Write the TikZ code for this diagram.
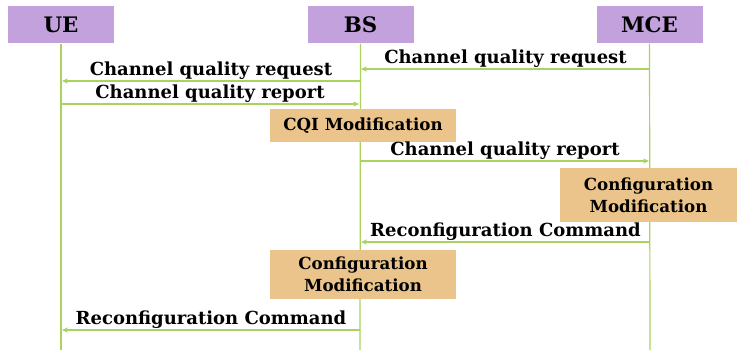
\documentclass[tikz,border=0pt]{standalone}
\usepackage{fontspec}
\setmainfont{DejaVu Serif}
\usetikzlibrary{arrows.meta}

\tikzset{every picture/.style={line width=0.75pt}}
\tikzset{
  actor/.style={fill={rgb, 255:red, 195; green, 161; blue, 221 }, draw opacity=0, minimum width=79.5pt, minimum height=27.75pt, inner sep=0.75pt, font=\bfseries\fontsize{16}{18}\selectfont},
  task/.style={fill={rgb, 255:red, 235; green, 196; blue, 139 }, draw opacity=0, minimum width=139.5pt, inner sep=0.75pt, align=center, font=\bfseries\fontsize{12.5}{16.5}\selectfont},
  life/.style={color={rgb, 255:red, 170; green, 210; blue, 95 }, line width=0.9pt},
  msg/.style={life, -{Stealth[length=4.5pt,width=4pt]}},
  lbl/.style={text=black, inner sep=0.75pt, font=\bfseries\fontsize{13.5}{15}\selectfont}
}

\begin{document}
\begin{tikzpicture}[x=0.75pt,y=0.75pt,yscale=-1,xscale=1]
\path[use as bounding box] (0,0) rectangle (737,350);

%Shape: Rectangle [id:ue]
\node [actor] (ue) at (61,24.5) {UE};
%Shape: Rectangle [id:bs]
\node [actor] (bs) at (360.5,24.5) {BS};
%Shape: Rectangle [id:mce]
\node [actor] (mce) at (649.5,24.5) {MCE};

%Straight Lines [id:lifelines]
\coordinate (ueend) at (61,350);
\coordinate (bsend) at (360,350);
\coordinate (mceend) at (650,350);
\draw [life] (ue.south) -- (ueend);
\draw [life] (bs.south) -- (bsend);
\draw [life] (mce.south) -- (mceend);

%Shape: Rectangle [id:cqi]
\node [task, minimum height=24.75pt] (cqi) at (363,125.5) {CQI Modification};
%Shape: Rectangle [id:mcecfg]
\node [task, minimum width=132.75pt, minimum height=40.5pt] (mcecfg) at (648.5,195) {Configuration\\Modification};
%Shape: Rectangle [id:bscfg]
\node [task, minimum height=36.75pt] (bscfg) at (363,274.5) {Configuration\\Modification};

%Message points
\coordinate (m1a) at (650,69);  \coordinate (m1b) at (361,69);
\coordinate (m2a) at (360,81);  \coordinate (m2b) at (62,81);
\coordinate (m3a) at (61,104);  \coordinate (m3b) at (359,104);
\coordinate (m4a) at (361,161); \coordinate (m4b) at (649,161);
\coordinate (m5a) at (650,242); \coordinate (m5b) at (361,242);
\coordinate (m6a) at (360,330); \coordinate (m6b) at (62,330);

%Straight Lines [id:msgs]
\draw [msg] (m1a) -- (m1b) node [lbl, midway, above] {Channel quality request};
\draw [msg] (m2a) -- (m2b) node [lbl, midway, above] {Channel quality request};
\draw [msg] (m3a) -- (m3b) node [lbl, midway, above] {Channel quality report};
\draw [msg] (m4a) -- (m4b) node [lbl, midway, above] {Channel quality report};
\draw [msg] (m5a) -- (m5b) node [lbl, midway, above] {Reconfiguration Command};
\draw [msg] (m6a) -- (m6b) node [lbl, midway, above] {Reconfiguration Command};

\end{tikzpicture}
\end{document}
